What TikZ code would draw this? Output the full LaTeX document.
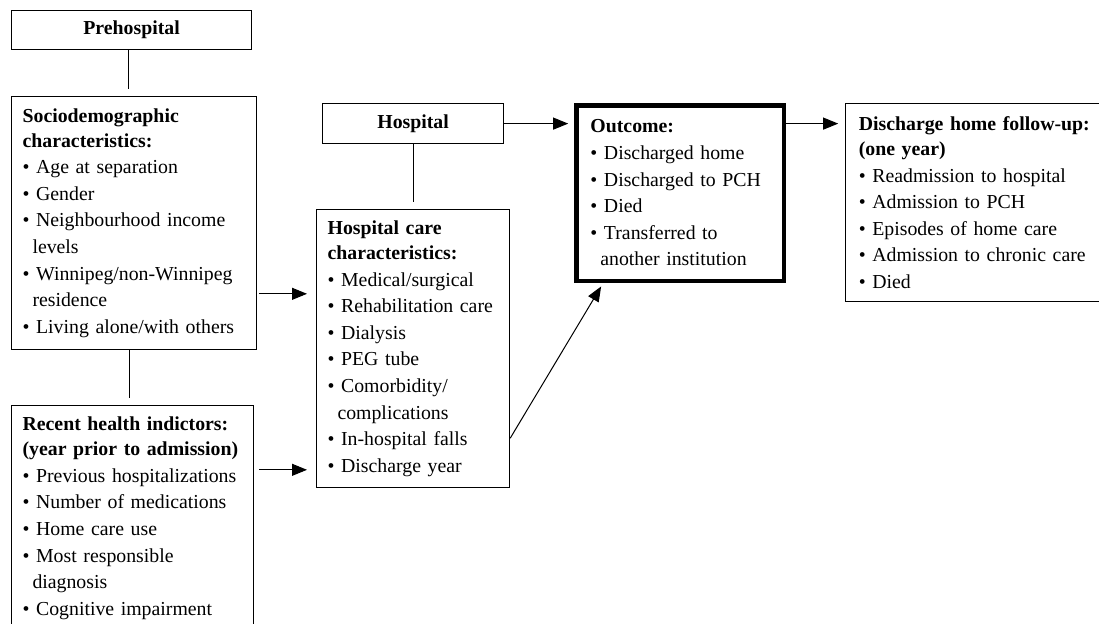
\documentclass[tikz,border=0pt]{standalone}
\usepackage{fontspec}
\setmainfont{Liberation Serif}
\usetikzlibrary{positioning,arrows.meta}
\tikzstyle{box} = [rectangle,
                   draw=black,
                   line width=0.6pt,
                   anchor=north west,
                   align=left,
                   inner xsep=5.5pt,
                   inner ysep=5.8pt,
                   font=\fontsize{9.9}{13.3}\selectfont]
\tikzstyle{head} = [rectangle,
                    draw=black,
                    line width=0.6pt,
                    anchor=north west,
                    font=\fontsize{9.9}{12}\selectfont\bfseries]
\tikzstyle{flow} = [x=0.5pt, y=-0.5pt,
                    >={Triangle[length=7.5pt,width=6pt]},
                    shorten >=3.5pt,
                    line width=0.5pt]
\newcommand{\itm}{\textbullet\ }
\newcommand{\cnt}{\hspace*{0.5em}}

\begin{document}
\begin{tikzpicture}[flow]
    \clip (0,0) rectangle (1099,623);
    \node (0) at (11,10) [head, minimum width=120pt, minimum height=19.5pt] {Prehospital};
    \node (1) [box, below=23pt of 0.south west, anchor=north west, text width=111.5pt]
      {\textbf{Sociodemographic}\\[-0.8pt] \textbf{characteristics:}\\
       \itm Age at separation\\ \itm Gender\\ \itm Neighbourhood income\\ \cnt levels\\
       \itm Winnipeg/non-Winnipeg\\ \cnt residence\\ \itm Living alone/with others};
    \node (2) [box, below=27.5pt of 1.south west, anchor=north west, text width=110pt]
      {\textbf{Recent health indictors:}\\[-0.8pt] \textbf{(year prior to admission)}\\
       \itm Previous hospitalizations\\ \itm Number of medications\\ \itm Home care use\\
       \itm Most responsible\\ \cnt diagnosis\\ \itm Cognitive impairment};
    \node (4) at (322,103) [head, minimum width=90.5pt, minimum height=20pt] {Hospital};
    \node (5) [box, below=32.5pt of 4, text width=85.5pt, inner ysep=5.5pt]
      {\textbf{Hospital care}\\[-0.8pt] \textbf{characteristics:}\\
       \itm Medical/surgical\\ \itm Rehabilitation care\\ \itm Dialysis\\ \itm PEG tube\\
       \itm Comorbidity/\\ \cnt complications\\ \itm In-hospital falls\\ \itm Discharge year};
    \node (6) [box, right=35pt of 4.north east, anchor=north west, line width=2.25pt,
               inner xsep=7pt, inner ysep=7.3pt, text width=89.75pt]
      {\textbf{Outcome:}\\ \itm Discharged home\\ \itm Discharged to PCH\\ \itm Died\\
       \itm Transferred to\\ \cnt another institution};
    \node (7) [box, right=29.5pt of 6.north east, anchor=north west,
               inner xsep=6.5pt, inner ysep=6.5pt, text width=119.5pt]
      {\textbf{Discharge home follow-up:}\\[-0.8pt] \textbf{(one year)}\\
       \itm Readmission to hospital\\ \itm Admission to PCH\\ \itm Episodes of home care\\
       \itm Admission to chronic care\\ \itm Died};
    \coordinate (0a) at ([xshift=-1.5pt]0.south);
    \coordinate (1b) at ([xshift=-2.5pt]1.south);
    \coordinate (1a) at ([yshift=28pt]1.south east);
    \coordinate (2a) at ([yshift=-32.5pt]2.north east);
    \coordinate (5a) at ([yshift=25pt]5.south east);
    \path[-]
      (0a) edge (0a |- 1.north)
      (1b) edge (1b |- 2.north)
      (4) edge (5);
    \path[->]
      (4.east) edge [shorten >=3pt] (4.east -| 6.west)
      (4.east -| 6.east) edge (4.east -| 7.west)
      (1a) edge [shorten <=1pt, shorten >=4.5pt] (1a -| 5.west)
      (2a) edge [shorten <=2.5pt, shorten >=4.5pt] (2a -| 5.west)
      (5a) edge [shorten >=2pt] ([xshift=14.5pt]6.south west);
\end{tikzpicture}
\end{document}
